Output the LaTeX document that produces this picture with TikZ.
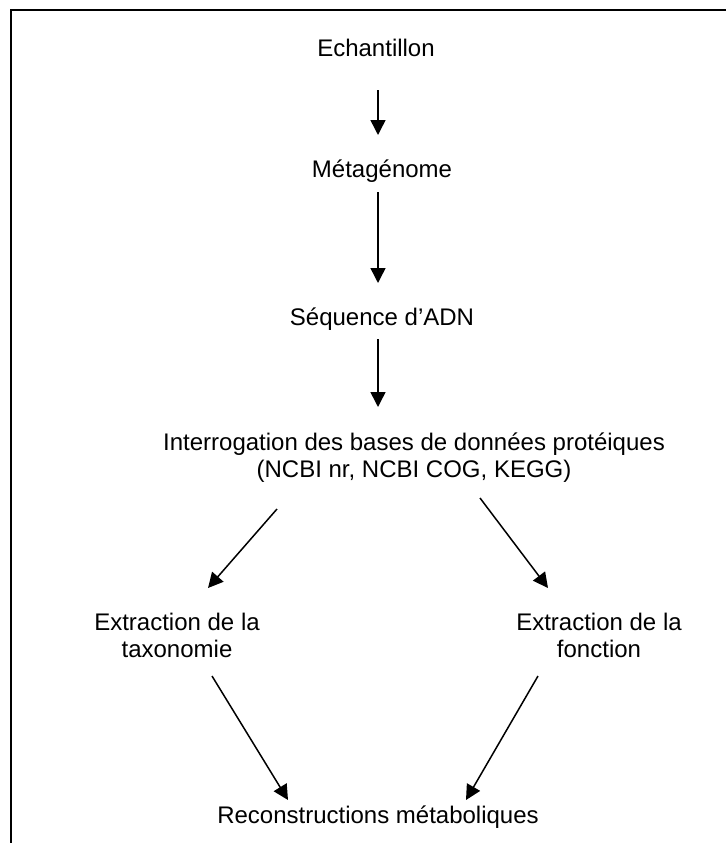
\documentclass[tikz,border=0pt]{standalone}
\usepackage{fontspec}
\setmainfont{Liberation Sans}
\usetikzlibrary{arrows.meta}
\begin{document}
\begin{tikzpicture}[x=1pt,y=1pt,
  lbl/.style={inner sep=0pt,anchor=base,align=center,font=\fontsize{24}{26.5}\selectfont},
  arr/.style={line width=1.5pt,-{Triangle[length=15pt,width=15pt]}},
  frame/.style={line width=2pt}]
\useasboundingbox (0,0) rectangle (726,-843);
\draw[frame] (11,-843) -- (11,-10) -- (726,-10);
\node[lbl] (e) at (376,-57) {Echantillon};
\node[lbl] (m) at (382,-177) {Métagénome};
\node[lbl] (s) at (382,-325) {Séquence d’ADN};
\node[lbl] (i) at (414,-477) {Interrogation des bases de données protéiques\\(NCBI nr, NCBI COG, KEGG)};
\node[lbl] (xl) at (177,-657) {Extraction de la\\taxonomie};
\node[lbl] (xr) at (599,-657) {Extraction de la\\fonction};
\node[lbl] (r) at (378,-823) {Reconstructions métaboliques};
\draw[arr] ([shift={(2,-33)}]e.base) -- ([shift={(-4,42)}]m.base);
\draw[arr] ([shift={(-4,-15)}]m.base) -- ([shift={(-4,42)}]s.base);
\draw[arr] ([shift={(-4,-14)}]s.base) -- ([shift={(-36,70)}]i.base);
\draw[arr] ([shift={(-137,-32)}]i.base) -- ([shift={(31,69)}]xl.base);
\draw[arr] ([shift={(66,-21)}]i.base) -- ([shift={(-51,69)}]xr.base);
\draw[arr] ([shift={(35,-19)}]xl.base) -- ([shift={(-90,23)}]r.base);
\draw[arr] ([shift={(-61,-19)}]xr.base) -- ([shift={(88,23)}]r.base);
\end{tikzpicture}
\end{document}
